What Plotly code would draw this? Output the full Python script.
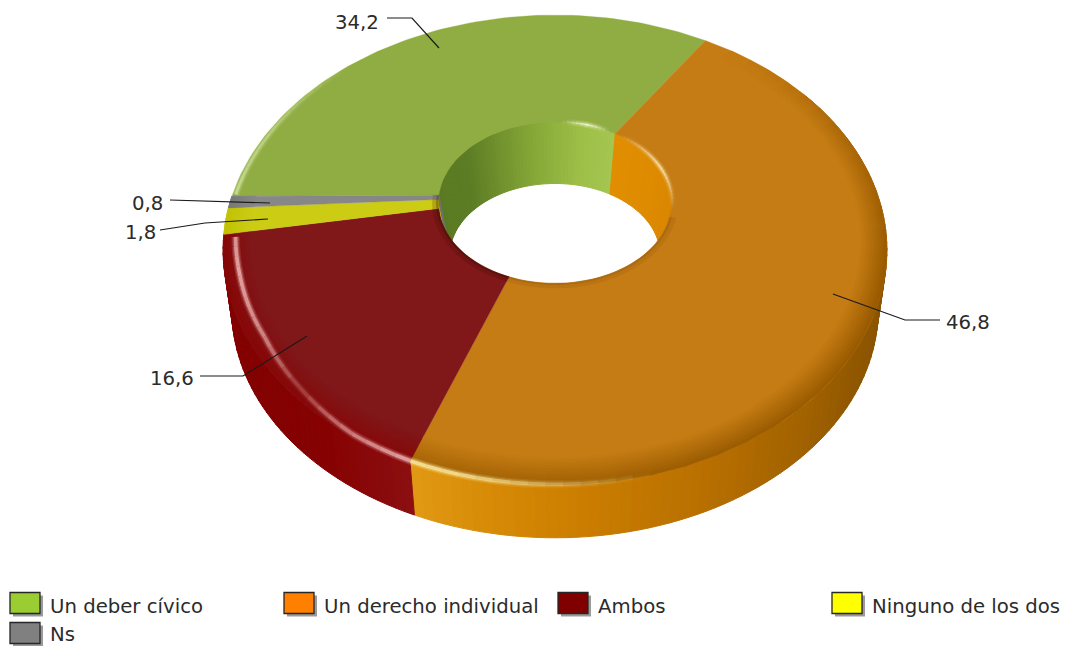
import math
import plotly.graph_objects as go

# ---- data ----
categories = ["Un deber cívico", "Un derecho individual", "Ambos", "Ninguno de los dos", "Ns"]
values = [34.2, 46.8, 16.6, 1.8, 0.8]
legend_colors = ["#9ACD32", "#FF8000", "#800000", "#FFFF00", "#808080"]
face_colors = ["#90AD43", "#C57C14", "#801719", "#CCCC14", "#878787"]

# ---- styling / geometry of the tilted ring ----
START = -89.2
CX, CY, A, B, P = 555.0, 196.0, 323.0, 222.6, 0.23
WARP = 1.2
R_IN = 0.36
R_IN_BOTTOM, DZ_IN = 0.326, 55.0
R_OUT_BOTTOM, DZ_OUT = 0.975, 62.0
FONT = "DejaVu Sans"
FS = 19.7
TXT = "#2b2b2b"


def proj(r, deg, dz=0.0):
    d = deg - WARP * r * (1 - math.cos(math.radians(deg - 33.6))) / 2
    t = math.radians(d)
    w = 1 + P * r * math.cos(t)
    return CX + A * r * math.sin(t) / w, CY - B * r * math.cos(t) / w + dz


def rgb(c):
    return tuple(int(c[i:i + 2], 16) for i in (1, 3, 5))


def mix(c1, c2, f):
    a, b = rgb(c1), rgb(c2)
    f = max(0.0, min(1.0, f))
    return "#%02X%02X%02X" % tuple(round(a[i] + (b[i] - a[i]) * f) for i in range(3))


def ramp(stops, x):
    if x <= stops[0][0]:
        return stops[0][1]
    for (x0, c0), (x1, c1) in zip(stops, stops[1:]):
        if x <= x1:
            return mix(c0, c1, (x - x0) / (x1 - x0))
    return stops[-1][1]


def ramp_num(stops, x):
    if x <= stops[0][0]:
        return stops[0][1]
    for (x0, v0), (x1, v1) in zip(stops, stops[1:]):
        if x <= x1:
            return v0 + (v1 - v0) * (x - x0) / (x1 - x0)
    return stops[-1][1]


def arange(a0, a1, step):
    n = max(1, int(abs(a1 - a0) / step + 0.999))
    return [a0 + (a1 - a0) * i / n for i in range(n + 1)]


# slice boundaries derived from the values
total = sum(values)
bounds = []
cur = START
for v in values:
    nxt = cur + v / total * 360
    bounds.append((cur, nxt))
    cur = nxt

fig = go.Figure()


def poly(pts, color, name="", width=1.0):
    fig.add_trace(go.Scatter(
        x=[p[0] for p in pts] + [pts[0][0]], y=[p[1] for p in pts] + [pts[0][1]],
        mode="lines", fill="toself", fillcolor=color,
        line=dict(color=color, width=width), hoverinfo="skip", name=name, showlegend=False))


def curve(pts, color, width):
    fig.add_trace(go.Scatter(
        x=[p[0] for p in pts], y=[p[1] for p in pts], mode="lines",
        line=dict(color=color, width=width), hoverinfo="skip", showlegend=False))


side_ramps = {
    0: [(0, "#7E9A35"), (1, "#7E9A35")],
    1: [(408, "#E29A14"), (480, "#D88C08"), (560, "#CE8000"), (700, "#B97000"), (800, "#A26200"), (860, "#8F5600"), (890, "#8A5200")],
    2: [(220, "#820000"), (330, "#860202"), (420, "#8C1012")],
    3: [(220, "#C8C800"), (240, "#C8C800")],
    4: [(220, "#707070"), (240, "#707070")],
}

# outer side wall (only the part turned to the viewer can show)
for i, (a0, a1) in enumerate(bounds):
    for lo, hi in [(a0, a1), (a0 - 360, a1 - 360)]:
        lo2, hi2 = max(lo, 60), min(hi, 300)
        if hi2 <= lo2:
            continue
        steps = arange(lo2, hi2, 1.5)
        for s0, s1 in zip(steps, steps[1:]):
            pts = [proj(1, s0), proj(1, s1), proj(R_OUT_BOTTOM, s1, DZ_OUT), proj(R_OUT_BOTTOM, s0, DZ_OUT)]
            xm = sum(p[0] for p in pts) / 4
            poly(pts, ramp(side_ramps[i], xm))

wall_ramps = {
    0: [(440, "#5A7A22"), (470, "#5C7C24"), (530, "#83A535"), (580, "#9DBF48"), (612, "#A4C650")],
    1: [(610, "#E08E00"), (650, "#DF8B00"), (675, "#D88400")],
    2: [(440, "#5A0A0A"), (460, "#5A0A0A")],
    3: [(430, "#B8B810"), (460, "#B8B810")],
    4: [(430, "#707070"), (460, "#707070")],
}

# inner wall of the hole
for i, (a0, a1) in enumerate(bounds):
    for lo, hi in [(a0, a1), (a0 - 360, a1 - 360), (a0 + 360, a1 + 360)]:
        lo2, hi2 = max(lo, -115), min(hi, 115)
        if hi2 <= lo2:
            continue
        steps = arange(lo2, hi2, 2.0)
        for s0, s1 in zip(steps, steps[1:]):
            pts = [proj(R_IN, s0), proj(R_IN, s1), proj(R_IN_BOTTOM, s1, DZ_IN), proj(R_IN_BOTTOM, s0, DZ_IN)]
            xm = sum(p[0] for p in pts) / 4
            poly(pts, ramp(wall_ramps[i], xm))

# flat top face
for i, (a0, a1) in enumerate(bounds):
    outer = [proj(1, a) for a in arange(a0, a1, 1.5)]
    inner = [proj(R_IN, a) for a in arange(a1, a0, 3.0)]
    poly(outer + inner, face_colors[i], name=categories[i], width=0.3)

# rounded shoulder on the outer edge
shoulder_curve = [(40, 0.0), (75, 0.6), (110, 1.0), (160, 0.9), (205, 0.7), (262, 0.75), (300, 0.0)]
shoulder_dark = {0: "#6E8A28", 1: "#985A00", 2: "#8A0202", 3: "#BDBD00", 4: "#707070"}
rings = [0.925 + 0.0075 * j for j in range(11)]
for i, (a0, a1) in enumerate(bounds):
    for lo, hi in [(a0, a1), (a0 - 360, a1 - 360)]:
        lo2, hi2 = max(lo, 40), min(hi, 300)
        if hi2 <= lo2:
            continue
        steps = arange(lo2, hi2, 5.0)
        for s0, s1 in zip(steps, steps[1:]):
            k = ramp_num(shoulder_curve, (s0 + s1) / 2)
            for r0, r1 in zip(rings, rings[1:]):
                f = ((r1 - 0.925) / 0.075) ** 1.1
                pts = [proj(r0, a) for a in (s0, s1)] + [proj(r1, a) for a in (s1, s0)]
                poly(pts, mix(face_colors[i], shoulder_dark[i], f * k), width=0.6)

# soft shade round the near edge of the hole
hole_shade = {1: (0.18, 0.07), 2: (0.55, 0.22), 3: (0.45, 0.2), 4: (0.4, 0.15)}
for i, (a0, a1) in enumerate(bounds):
    lo2, hi2 = max(a0, 105), min(a1, 275)
    if hi2 <= lo2 or i not in hole_shade:
        continue
    steps = arange(lo2, hi2, 4.0)
    for s0, s1 in zip(steps, steps[1:]):
        f1, f2 = hole_shade[i]
        for r0, r1, f in [(R_IN, R_IN * 1.02, f1), (R_IN * 1.02, R_IN * 1.05, f2)]:
            pts = [proj(r0, a) for a in (s0, s1)] + [proj(r1, a) for a in (s1, s0)]
            poly(pts, mix(face_colors[i], "#3A1000", f), width=0.4)


# highlights along the rounded edges: (angle, radius, strength)
def glint(profile, color, width=3.0, step=2.5):
    a0, a1 = profile[0][0], profile[-1][0]
    angs = arange(a0, a1, step)
    r_, g_, b_ = rgb(color)
    rad = [(p[0], p[1]) for p in profile]
    alp = [(p[0], p[2]) for p in profile]
    for s0, s1 in zip(angs, angs[1:]):
        m = (s0 + s1) / 2
        u = ramp_num(alp, m)
        pts = [proj(ramp_num(rad, a), a) for a in (s0, s1)]
        curve(pts, f"rgba({r_},{g_},{b_},{0.16 * u:.3f})", width + 5)
        curve(pts, f"rgba({r_},{g_},{b_},{0.3 * u:.3f})", width + 2.5)
        curve(pts, f"rgba({r_},{g_},{b_},{0.75 * u:.3f})", width)


a_d0, a_d1 = bounds[1]
a_m0, a_m1 = bounds[2]
a_g0, a_g1 = bounds[0]
glint([(a_d1 - 34, 0.998, 0.0), (a_d1 - 18, 0.998, 0.5), (a_d1 - 6, 0.998, 0.95), (a_d1, 0.998, 1.0)], "#FFF0A8", width=3.4)
glint([(a_m0, 0.998, 1.0), (a_m0 + 10, 0.995, 0.65), (a_m0 + 22, 0.975, 0.22),
      (a_m0 + 34, 0.96, 0.7), (a_m0 + 50, 0.96, 1.0), (a_m1 - 1, 0.965, 0.85)], "#F2B8B8", width=3.6)
glint([(a_g0 + 0.5, 0.99, 0.75), (a_g0 + 16, 0.99, 0.55), (a_g0 + 42, 0.995, 0.0)], "#DCEBB0", width=2.6)
glint([(4, R_IN * 1.005, 0.0), (17, R_IN * 1.005, 1.0), (30, R_IN * 1.005, 0.0)], "#FFFFE0", width=1.6)
glint([(36, R_IN * 1.005, 0.0), (68, R_IN * 1.005, 1.0), (100, R_IN * 1.005, 0.0)], "#FFEFC0", width=1.8)

# leader lines (anchor, elbow, label side)
leaders = {
    "34,2": [(439, 48), (412, 18), (387, 18)],
    "46,8": [(833, 294), (905, 320), (940, 320)],
    "16,6": [(307, 336), (243, 376), (200, 376)],
    "1,8": [(268, 219), (205, 223), (160, 230)],
    "0,8": [(270, 203), (170, 200)],
}
for pts in leaders.values():
    fig.add_trace(go.Scatter(x=[p[0] for p in pts], y=[p[1] for p in pts], mode="lines",
                             line=dict(color="#1a1a1a", width=1.2), hoverinfo="skip", showlegend=False))

annotations = []
label_pos = {
    0: (357, 22), 1: (968, 322), 2: (172, 378), 3: (140, 232), 4: (147, 203),
}
for i, v in enumerate(values):
    txt = f"{v}".replace(".", ",")
    annotations.append(dict(x=label_pos[i][0], y=label_pos[i][1], xref="x", yref="y", text=txt, showarrow=False,
                            font=dict(family=FONT, size=FS, color=TXT), xanchor="center", yanchor="middle"))

# legend
leg_x = [10, 284, 558, 832, 10]
leg_y = [592.5, 592.5, 592.5, 592.5, 622.5]
leg_ty = [606, 606, 606, 606, 634]
shapes = []
for i, name in enumerate(categories):
    x0, y0 = leg_x[i], leg_y[i]
    shapes.append(dict(type="rect", xref="x", yref="y", x0=x0 + 3, x1=x0 + 33, y0=y0 + 3, y1=y0 + 24,
                       fillcolor="#9a9a9a", line=dict(width=0)))
    shapes.append(dict(type="rect", xref="x", yref="y", x0=x0, x1=x0 + 30, y0=y0, y1=y0 + 21,
                       fillcolor=legend_colors[i], line=dict(color="#262626", width=1.3)))
    annotations.append(dict(x=x0 + 37.5, y=leg_ty[i], xref="x", yref="y", text=name, showarrow=False,
                            font=dict(family=FONT, size=FS, color=TXT), xanchor="left", yanchor="middle"))

fig.update_layout(
    width=1069, height=646, margin=dict(l=0, r=0, t=0, b=0),
    paper_bgcolor="white", plot_bgcolor="white", showlegend=False,
    xaxis=dict(range=[0, 1069], visible=False, fixedrange=True),
    yaxis=dict(range=[646, 0], visible=False, fixedrange=True),
    annotations=annotations, shapes=shapes,
)
fig.write_html("out.html", config={"displayModeBar": False},
               post_script="document.body.style.margin='0';document.documentElement.style.overflow='hidden';")
